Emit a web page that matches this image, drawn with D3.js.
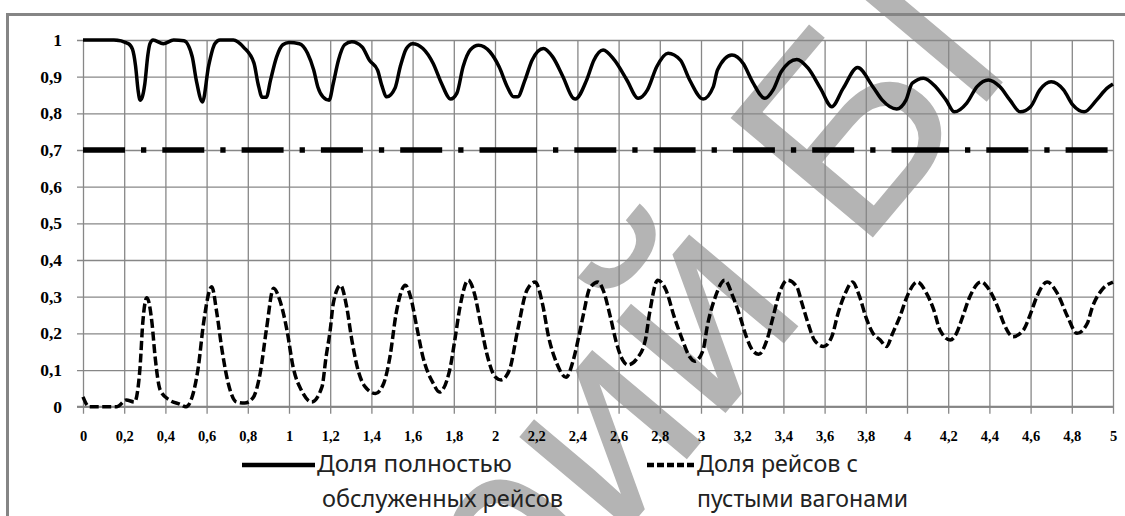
<!DOCTYPE html>
<html>
<head>
<meta charset="utf-8">
<script src="https://cdn.jsdelivr.net/npm/d3@7"></script>
<style>
  body { margin: 0; background: #fff; }
  svg { display: block; }
</style>
</head>
<body>
<div id="grafico"></div>
<script>
// Eje X: 0..5 cada 0,2
var xTicks = d3.range(0, 26).map(function (i) { return +(i * 0.2).toFixed(1); });
var xTickLabels = ["0", "0,2", "0,4", "0,6", "0,8", "1", "1,2", "1,4", "1,6", "1,8", "2", "2,2", "2,4",
  "2,6", "2,8", "3", "3,2", "3,4", "3,6", "3,8", "4", "4,2", "4,4", "4,6", "4,8", "5"];
var yTicks = [0, 0.1, 0.2, 0.3, 0.4, 0.5, 0.6, 0.7, 0.8, 0.9, 1];
var yTickLabels = ["0", "0,1", "0,2", "0,3", "0,4", "0,5", "0,6", "0,7", "0,8", "0,9", "1"];

var legendLabels = [["Доля полностью", "обслуженных рейсов"], ["Доля рейсов с", "пустыми вагонами"]];
var marcaAgua = ["Репозито", "рий БГПУ"];

// Доля полностью обслуженных рейсов
var serieLlenaX = [0, 0.15, 0.22, 0.24, 0.255, 0.268, 0.277, 0.288, 0.30, 0.315, 0.325, 0.34, 0.39, 0.44, 0.49,
  0.53, 0.55, 0.58, 0.61, 0.64, 0.665, 0.73, 0.78, 0.83, 0.85, 0.87, 0.89, 0.91, 0.94, 0.97,
  1.0, 1.05, 1.09, 1.12, 1.14, 1.165, 1.195, 1.215, 1.24, 1.27, 1.305, 1.355, 1.39, 1.43, 1.45,
  1.475, 1.515, 1.54, 1.57, 1.60, 1.65, 1.70, 1.74, 1.785, 1.815, 1.845, 1.88, 1.92, 1.975,
  2.02, 2.06, 2.09, 2.11, 2.145, 2.18, 2.235, 2.28, 2.33, 2.38, 2.39, 2.445, 2.48, 2.525, 2.58,
  2.64, 2.695, 2.74, 2.785, 2.84, 2.90, 2.945, 3.01, 3.06, 3.08, 3.15, 3.205, 3.25, 3.31, 3.35,
  3.39, 3.465, 3.52, 3.58, 3.635, 3.69, 3.76, 3.835, 3.88, 3.95, 3.995, 4.025, 4.08, 4.14, 4.19,
  4.23, 4.29, 4.34, 4.395, 4.45, 4.5, 4.55, 4.6, 4.645, 4.70, 4.76, 4.805, 4.86, 4.92, 4.97, 5.0];
var serieLlenaY = [1.0, 1.0, 0.99, 0.975, 0.93, 0.86, 0.836, 0.845, 0.88, 0.96, 0.99, 1.0, 0.99, 1.0, 0.998,
  0.955, 0.89, 0.831, 0.93, 0.99, 1.0, 1.0, 0.98, 0.937, 0.88, 0.844, 0.844, 0.89, 0.954, 0.987,
  0.993, 0.99, 0.964, 0.918, 0.872, 0.845, 0.836, 0.882, 0.945, 0.987, 0.995, 0.981, 0.945, 0.918, 0.877,
  0.845, 0.869, 0.927, 0.977, 0.99, 0.977, 0.936, 0.882, 0.839, 0.855, 0.927, 0.973, 0.986, 0.968,
  0.927, 0.872, 0.845, 0.845, 0.89, 0.945, 0.977, 0.954, 0.9, 0.841, 0.839, 0.891, 0.945, 0.973, 0.945,
  0.891, 0.841, 0.864, 0.927, 0.964, 0.945, 0.891, 0.839, 0.873, 0.918, 0.959, 0.936, 0.886, 0.841, 0.864,
  0.914, 0.947, 0.923, 0.868, 0.818, 0.868, 0.925, 0.872, 0.836, 0.812, 0.836, 0.882, 0.896, 0.872, 0.836,
  0.804, 0.828, 0.873, 0.891, 0.873, 0.836, 0.804, 0.818, 0.864, 0.886, 0.864, 0.823, 0.804, 0.836, 0.868, 0.88];

// Доля рейсов с пустыми вагонами
var serieDiscX = [0, 0.03, 0.165, 0.21, 0.25, 0.277, 0.29, 0.31, 0.335, 0.35, 0.375, 0.42, 0.47, 0.50,
  0.53, 0.56, 0.585, 0.625, 0.65, 0.675, 0.705, 0.745, 0.785, 0.825, 0.86, 0.89, 0.925, 0.955, 0.99,
  1.02, 1.06, 1.11, 1.16, 1.18, 1.2, 1.215, 1.25, 1.28, 1.305, 1.335, 1.37, 1.42, 1.46, 1.49, 1.52,
  1.565, 1.59, 1.62, 1.65, 1.70, 1.73, 1.78, 1.805, 1.83, 1.87, 1.90, 1.93, 1.96, 2.0, 2.03, 2.07,
  2.11, 2.155, 2.195, 2.23, 2.26, 2.30, 2.345, 2.38, 2.41, 2.43, 2.46, 2.50, 2.525, 2.56, 2.59, 2.62,
  2.645, 2.69, 2.73, 2.75, 2.79, 2.83, 2.87, 2.91, 2.945, 2.97, 3.01, 3.03, 3.07, 3.115, 3.155, 3.19,
  3.22, 3.25, 3.28, 3.32, 3.35, 3.38, 3.42, 3.465, 3.49, 3.52, 3.55, 3.595, 3.635, 3.665, 3.70, 3.735,
  3.77, 3.80, 3.835, 3.87, 3.90, 3.93, 3.965, 4.0, 4.05, 4.095, 4.13, 4.16, 4.21, 4.24, 4.27, 4.305,
  4.36, 4.40, 4.44, 4.47, 4.515, 4.565, 4.60, 4.63, 4.68, 4.73, 4.78, 4.825, 4.875, 4.90, 4.945, 5.0];
var serieDiscY = [0.027, 0.0, 0.0, 0.018, 0.013, 0.108, 0.228, 0.297, 0.228, 0.136, 0.045, 0.018, 0.007, 0.0,
  0.027, 0.109, 0.227, 0.327, 0.254, 0.154, 0.064, 0.013, 0.01, 0.024, 0.091, 0.209, 0.323, 0.291, 0.209,
  0.108, 0.045, 0.013, 0.054, 0.136, 0.209, 0.282, 0.331, 0.272, 0.182, 0.1, 0.054, 0.036, 0.064, 0.136, 0.254,
  0.331, 0.3, 0.218, 0.136, 0.064, 0.04, 0.1, 0.182, 0.272, 0.345, 0.309, 0.227, 0.145, 0.082, 0.073, 0.1,
  0.209, 0.318, 0.34, 0.282, 0.191, 0.118, 0.08, 0.127, 0.2, 0.254, 0.323, 0.34, 0.318, 0.245, 0.173, 0.127,
  0.114, 0.132, 0.182, 0.254, 0.345, 0.318, 0.245, 0.182, 0.136, 0.124, 0.154, 0.218, 0.3, 0.345, 0.3, 0.245,
  0.191, 0.154, 0.143, 0.182, 0.245, 0.309, 0.345, 0.327, 0.282, 0.227, 0.182, 0.164, 0.191, 0.254, 0.309, 0.34,
  0.3, 0.245, 0.2, 0.182, 0.164, 0.2, 0.245, 0.3, 0.34, 0.309, 0.264, 0.209, 0.182, 0.2, 0.245, 0.3,
  0.34, 0.318, 0.272, 0.227, 0.191, 0.209, 0.254, 0.3, 0.34, 0.309, 0.245, 0.2, 0.227, 0.272, 0.318, 0.34];

// linea constante 0,7 (dibujada por tramos, el patron se reinicia en cada tramo)
var tramosX = [0, 2, 4, 5];
var valorConstante = 0.7;

const WIDTH = 1125;
const HEIGHT = 516;

var svg = d3.select("#grafico").append("svg")
  .attr("width", WIDTH)
  .attr("height", HEIGHT);

var x = d3.scaleLinear().domain([0, 5]).range([83, 1113]);
var y = d3.scaleLinear().domain([0, 1]).range([406.7, 40]);

// marca de agua (debajo de todo)
var agua = svg.append("g")
  .attr("transform", "translate(520,658) rotate(-50)")
  .attr("font-family", "'Liberation Sans', Arial, sans-serif")
  .attr("font-size", 270)
  .attr("fill", "#b4b4b4");
agua.append("text").attr("text-anchor", "end").text(marcaAgua[0]);
agua.append("text").attr("text-anchor", "start").text(marcaAgua[1]);

// marco exterior
svg.append("path")
  .attr("d", "M7.5," + HEIGHT + "V14.5H" + WIDTH)
  .attr("fill", "none")
  .attr("stroke", "#858585")
  .attr("stroke-width", 3);

// rejilla vertical + etiquetas X
var ejeX = svg.append("g")
  .attr("transform", "translate(0," + (y(0) + 7) + ")")
  .call(d3.axisBottom(x).tickValues(xTicks)
    .tickFormat(function (d, i) { return xTickLabels[i]; })
    .tickSize(-(y(0) - y(1) + 7)).tickPadding(17));
ejeX.select(".domain").remove();
ejeX.selectAll("line").attr("stroke", "#878787").attr("stroke-width", 1.3);
ejeX.selectAll("text")
  .attr("font-family", "'Liberation Serif', serif")
  .attr("font-weight", "bold")
  .attr("font-size", 14.5)
  .attr("fill", "#000");

// rejilla horizontal + etiquetas Y
var ejeY = svg.append("g")
  .attr("transform", "translate(" + (x(0) - 6) + ",0)")
  .call(d3.axisLeft(y).tickValues(yTicks)
    .tickFormat(function (d, i) { return yTickLabels[i]; })
    .tickSize(-(x(5) - x(0) + 6)).tickPadding(15));
ejeY.select(".domain").remove();
ejeY.selectAll("line").attr("stroke", "#878787").attr("stroke-width", 1.3);
ejeY.selectAll("text")
  .attr("font-family", "'Liberation Serif', serif")
  .attr("font-weight", "bold")
  .attr("font-size", 17.5)
  .attr("fill", "#000");

// eje en 0 un poco mas grueso
svg.append("line")
  .attr("x1", x(0) - 6).attr("x2", x(5))
  .attr("y1", y(0)).attr("y2", y(0))
  .attr("stroke", "#858585").attr("stroke-width", 2);

var linea = d3.line()
  .x(function (d) { return x(d[0]); })
  .y(function (d) { return y(d[1]); })
  .curve(d3.curveMonotoneX);

// linea 0,7
for (var t = 0; t < tramosX.length - 1; t++) {
  svg.append("path")
    .attr("d", d3.line()([[x(tramosX[t]), y(valorConstante)], [x(tramosX[t + 1]), y(valorConstante)]]))
    .attr("fill", "none")
    .attr("stroke", "#000")
    .attr("stroke-width", 5.3)
    .attr("stroke-dasharray", "42,16,5.3,16");
}

var datosLlena = serieLlenaX.map(function (v, i) { return [v, serieLlenaY[i]]; });
var datosDisc = serieDiscX.map(function (v, i) { return [v, serieDiscY[i]]; });

svg.append("path")
  .datum(datosLlena)
  .attr("d", linea)
  .attr("fill", "none")
  .attr("stroke", "#000")
  .attr("stroke-width", 3.5)
  .attr("stroke-linejoin", "round");

svg.append("path")
  .datum(datosDisc)
  .attr("d", linea)
  .attr("fill", "none")
  .attr("stroke", "#000")
  .attr("stroke-width", 3.5)
  .attr("stroke-dasharray", "9,3.5");

// leyenda
var leyenda = [
  { x1: 242, x2: 315, tx: 317, dash: null, w: [195, 241] },
  { x1: 647, x2: 695, tx: 697, dash: "7,3", w: [161, 211] }
];
leyenda.forEach(function (l, i) {
  svg.append("line")
    .attr("x1", l.x1).attr("x2", l.x2)
    .attr("y1", 465).attr("y2", 465)
    .attr("stroke", "#000")
    .attr("stroke-width", 4.5)
    .attr("stroke-dasharray", l.dash);
  legendLabels[i].forEach(function (txt, j) {
    svg.append("text")
      .attr("x", l.tx + (j == 1 && i == 0 ? 5 : 0))
      .attr("y", 472 + j * 35)
      .attr("font-family", "'Noto Sans', sans-serif")
      .attr("font-size", 24)
      .attr("fill", "#222")
      .attr("textLength", l.w[j])
      .attr("lengthAdjust", "spacingAndGlyphs")
      .text(txt);
  });
});
</script>
</body>
</html>
